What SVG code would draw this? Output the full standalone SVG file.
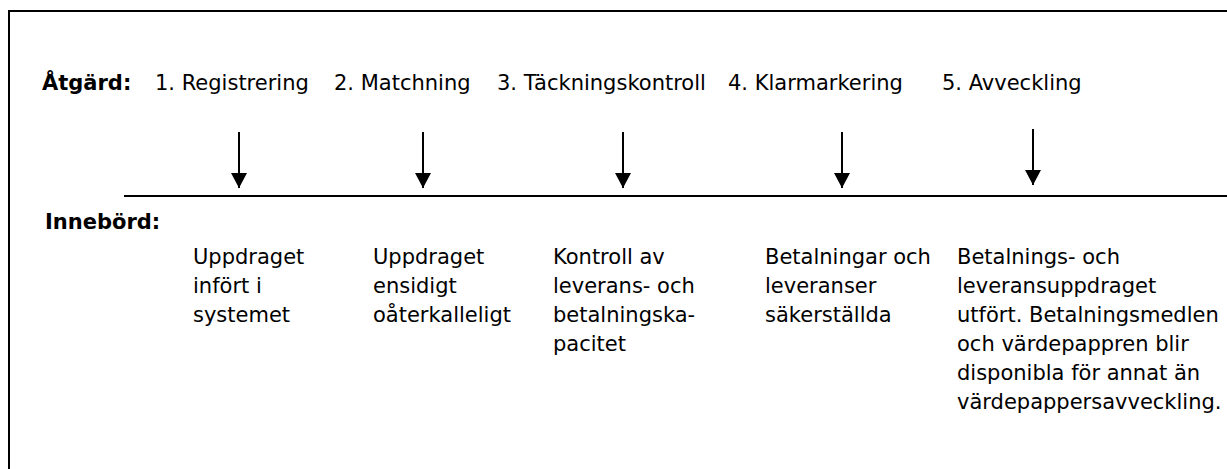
<svg xmlns="http://www.w3.org/2000/svg" width="1227" height="469" viewBox="0 0 1227 469">
<style>
text{font-family:"DejaVu Sans","Verdana",sans-serif;font-size:21px;fill:#000}
.b{font-weight:bold}
.ln{stroke:#000;stroke-width:2;fill:none}
.ar{stroke:#000;stroke-width:2}
</style>
<defs>
<marker id="ah" viewBox="0 0 15 16" refX="15" refY="8" markerWidth="15" markerHeight="16" markerUnits="userSpaceOnUse" orient="auto">
<path d="M0,0 L15,8 L0,16 Z" fill="#000"/>
</marker>
</defs>
<g id="frame">
<path class="ln" d="M9,469 V11 H1227"/>
</g>
<g id="timeline">
<line class="ln" x1="124" y1="196" x2="1227" y2="196"/>
</g>
<g id="labels">
<text class="b" x="42" y="90">Åtgärd:</text>
<text class="b" x="45" y="229">Innebörd:</text>
</g>
<g id="step1">
<text x="155" y="90">1. Registrering</text>
<text x="193" y="264">Uppdraget</text>
<text x="193" y="293">infört i</text>
<text x="193" y="322">systemet</text>
</g>
<g id="step2">
<text x="334" y="90">2. Matchning</text>
<text x="373" y="264">Uppdraget</text>
<text x="373" y="293">ensidigt</text>
<text x="373" y="322">oåterkalleligt</text>
</g>
<g id="step3">
<text x="497" y="90">3. Täckningskontroll</text>
<text x="553" y="264">Kontroll av</text>
<text x="553" y="293">leverans- och</text>
<text x="553" y="322">betalningska-</text>
<text x="553" y="351">pacitet</text>
</g>
<g id="step4">
<text x="728" y="90">4. Klarmarkering</text>
<text x="765" y="264">Betalningar och</text>
<text x="765" y="293">leveranser</text>
<text x="765" y="322">säkerställda</text>
</g>
<g id="step5">
<text x="942" y="90">5. Avveckling</text>
<text x="957" y="264">Betalnings- och</text>
<text x="957" y="293">leveransuppdraget</text>
<text x="957" y="322">utfört. Betalningsmedlen</text>
<text x="957" y="351">och värdepappren blir</text>
<text x="957" y="380">disponibla för annat än</text>
<text x="957" y="409">värdepappersavveckling.</text>
</g>
<g id="connectors">
<line class="ar" x1="239" y1="132" x2="239" y2="188" marker-end="url(#ah)"/>
<line class="ar" x1="423" y1="132" x2="423" y2="188" marker-end="url(#ah)"/>
<line class="ar" x1="623" y1="132" x2="623" y2="188" marker-end="url(#ah)"/>
<line class="ar" x1="842" y1="132" x2="842" y2="188" marker-end="url(#ah)"/>
<line class="ar" x1="1033" y1="129" x2="1033" y2="185" marker-end="url(#ah)"/>
</g>
</svg>
